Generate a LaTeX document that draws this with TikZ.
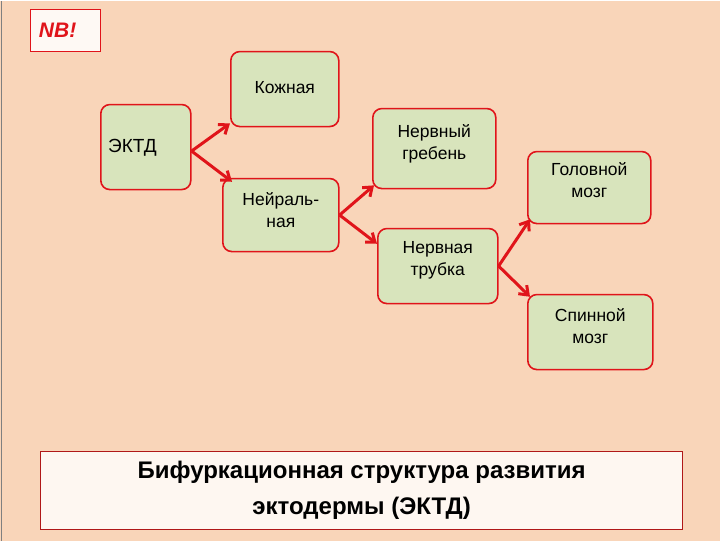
\documentclass[tikz,border=0pt]{standalone}
\usepackage{fontspec}
\setmainfont{Liberation Sans}
\usetikzlibrary{arrows.meta}
\definecolor{bg}{HTML}{F9D5B9}
\definecolor{boxfill}{HTML}{D8E4BC}
\definecolor{bred}{HTML}{E0141A}
\definecolor{dred}{HTML}{B01818}
\begin{document}
\begin{tikzpicture}[x=1pt,y=-1pt,
  box/.style={draw=bred,line width=1.6pt,fill=boxfill,rounded corners=9pt},
  lbl/.style={anchor=north,align=center,font=\fontsize{17.5}{22}\selectfont,inner sep=0pt},
  arr/.style={draw=bred,line width=3pt,-{Straight Barb[length=8pt,width=12pt]}}]
\fill[bg] (0,0) rectangle (720,540);
\draw[gray,line width=1.5pt] (1.5,0) -- (1.5,540);
\node[draw=bred,line width=1.2pt,fill=white!85!bg,minimum width=70pt,minimum height=42pt,anchor=north west,inner sep=0pt] (nb) at (30,8) {};
\node[text=bred,font=\fontsize{21}{24}\selectfont\bfseries\itshape] (nbt) at ([xshift=-8pt]nb.center) {NB!};
\node[box,minimum width=108pt,minimum height=75pt,anchor=north west] (kozh) at (230,50) {};
\node[lbl] (kozht) at ([yshift=-31pt]kozh.north) {Кожная};
\node[box,minimum width=90pt,minimum height=85pt,anchor=north west] (ektd) at (100,103) {};
\node[lbl,anchor=north west,font=\fontsize{19}{22}\selectfont] (ektdt) at (108,138) {ЭКТД};
\node[box,minimum width=123pt,minimum height=80pt,anchor=north west] (greb) at (372,107) {};
\node[lbl] (grebt) at ([yshift=-17pt]greb.north) {Нервный\\гребень};
\node[box,minimum width=116pt,minimum height=73pt,anchor=north west] (neir) at (222,177) {};
\node[lbl] (neirt) at ([yshift=-15pt]neir.north) {Нейраль-\\ная};
\node[box,minimum width=123pt,minimum height=72pt,anchor=north west] (golov) at (527,150) {};
\node[lbl] (golovt) at ([yshift=-12pt]golov.north) {Головной\\мозг};
\node[box,minimum width=120pt,minimum height=75pt,anchor=north west] (trub) at (377,227) {};
\node[lbl] (trubt) at ([yshift=-14pt]trub.north) {Нервная\\трубка};
\node[box,minimum width=125pt,minimum height=75pt,anchor=north west] (spin) at (527,293) {};
\node[lbl] (spint) at ([yshift=-15pt]spin.north) {Спинной\\мозг};
\node[draw=dred,line width=1.2pt,fill=white!80!bg,minimum width=642pt,minimum height=78pt,anchor=north west,inner sep=0pt] (title) at (40,450) {};
\node[align=center,font=\fontsize{24}{36}\selectfont\bfseries] (titlet) at (title.center) {Бифуркационная структура развития\\эктодермы (ЭКТД)};
\coordinate (ea) at ([yshift=-4pt]ektd.east);
\draw[arr] (ea) -- ([yshift=4pt]kozh.south west);
\draw[arr] (ea) -- ([xshift=10pt,yshift=-4pt]neir.north west);
\coordinate (na) at (neir.east);
\draw[arr] (na) -- ([xshift=2pt,yshift=4pt]greb.south west);
\draw[arr] (na) -- ([yshift=-16pt]trub.north west);
\coordinate (ta) at (trub.east);
\draw[arr] (ta) -- ([xshift=3pt,yshift=5pt]golov.south west);
\draw[arr] (ta) -- ([xshift=3pt,yshift=-3pt]spin.north west);
\end{tikzpicture}
\end{document}
